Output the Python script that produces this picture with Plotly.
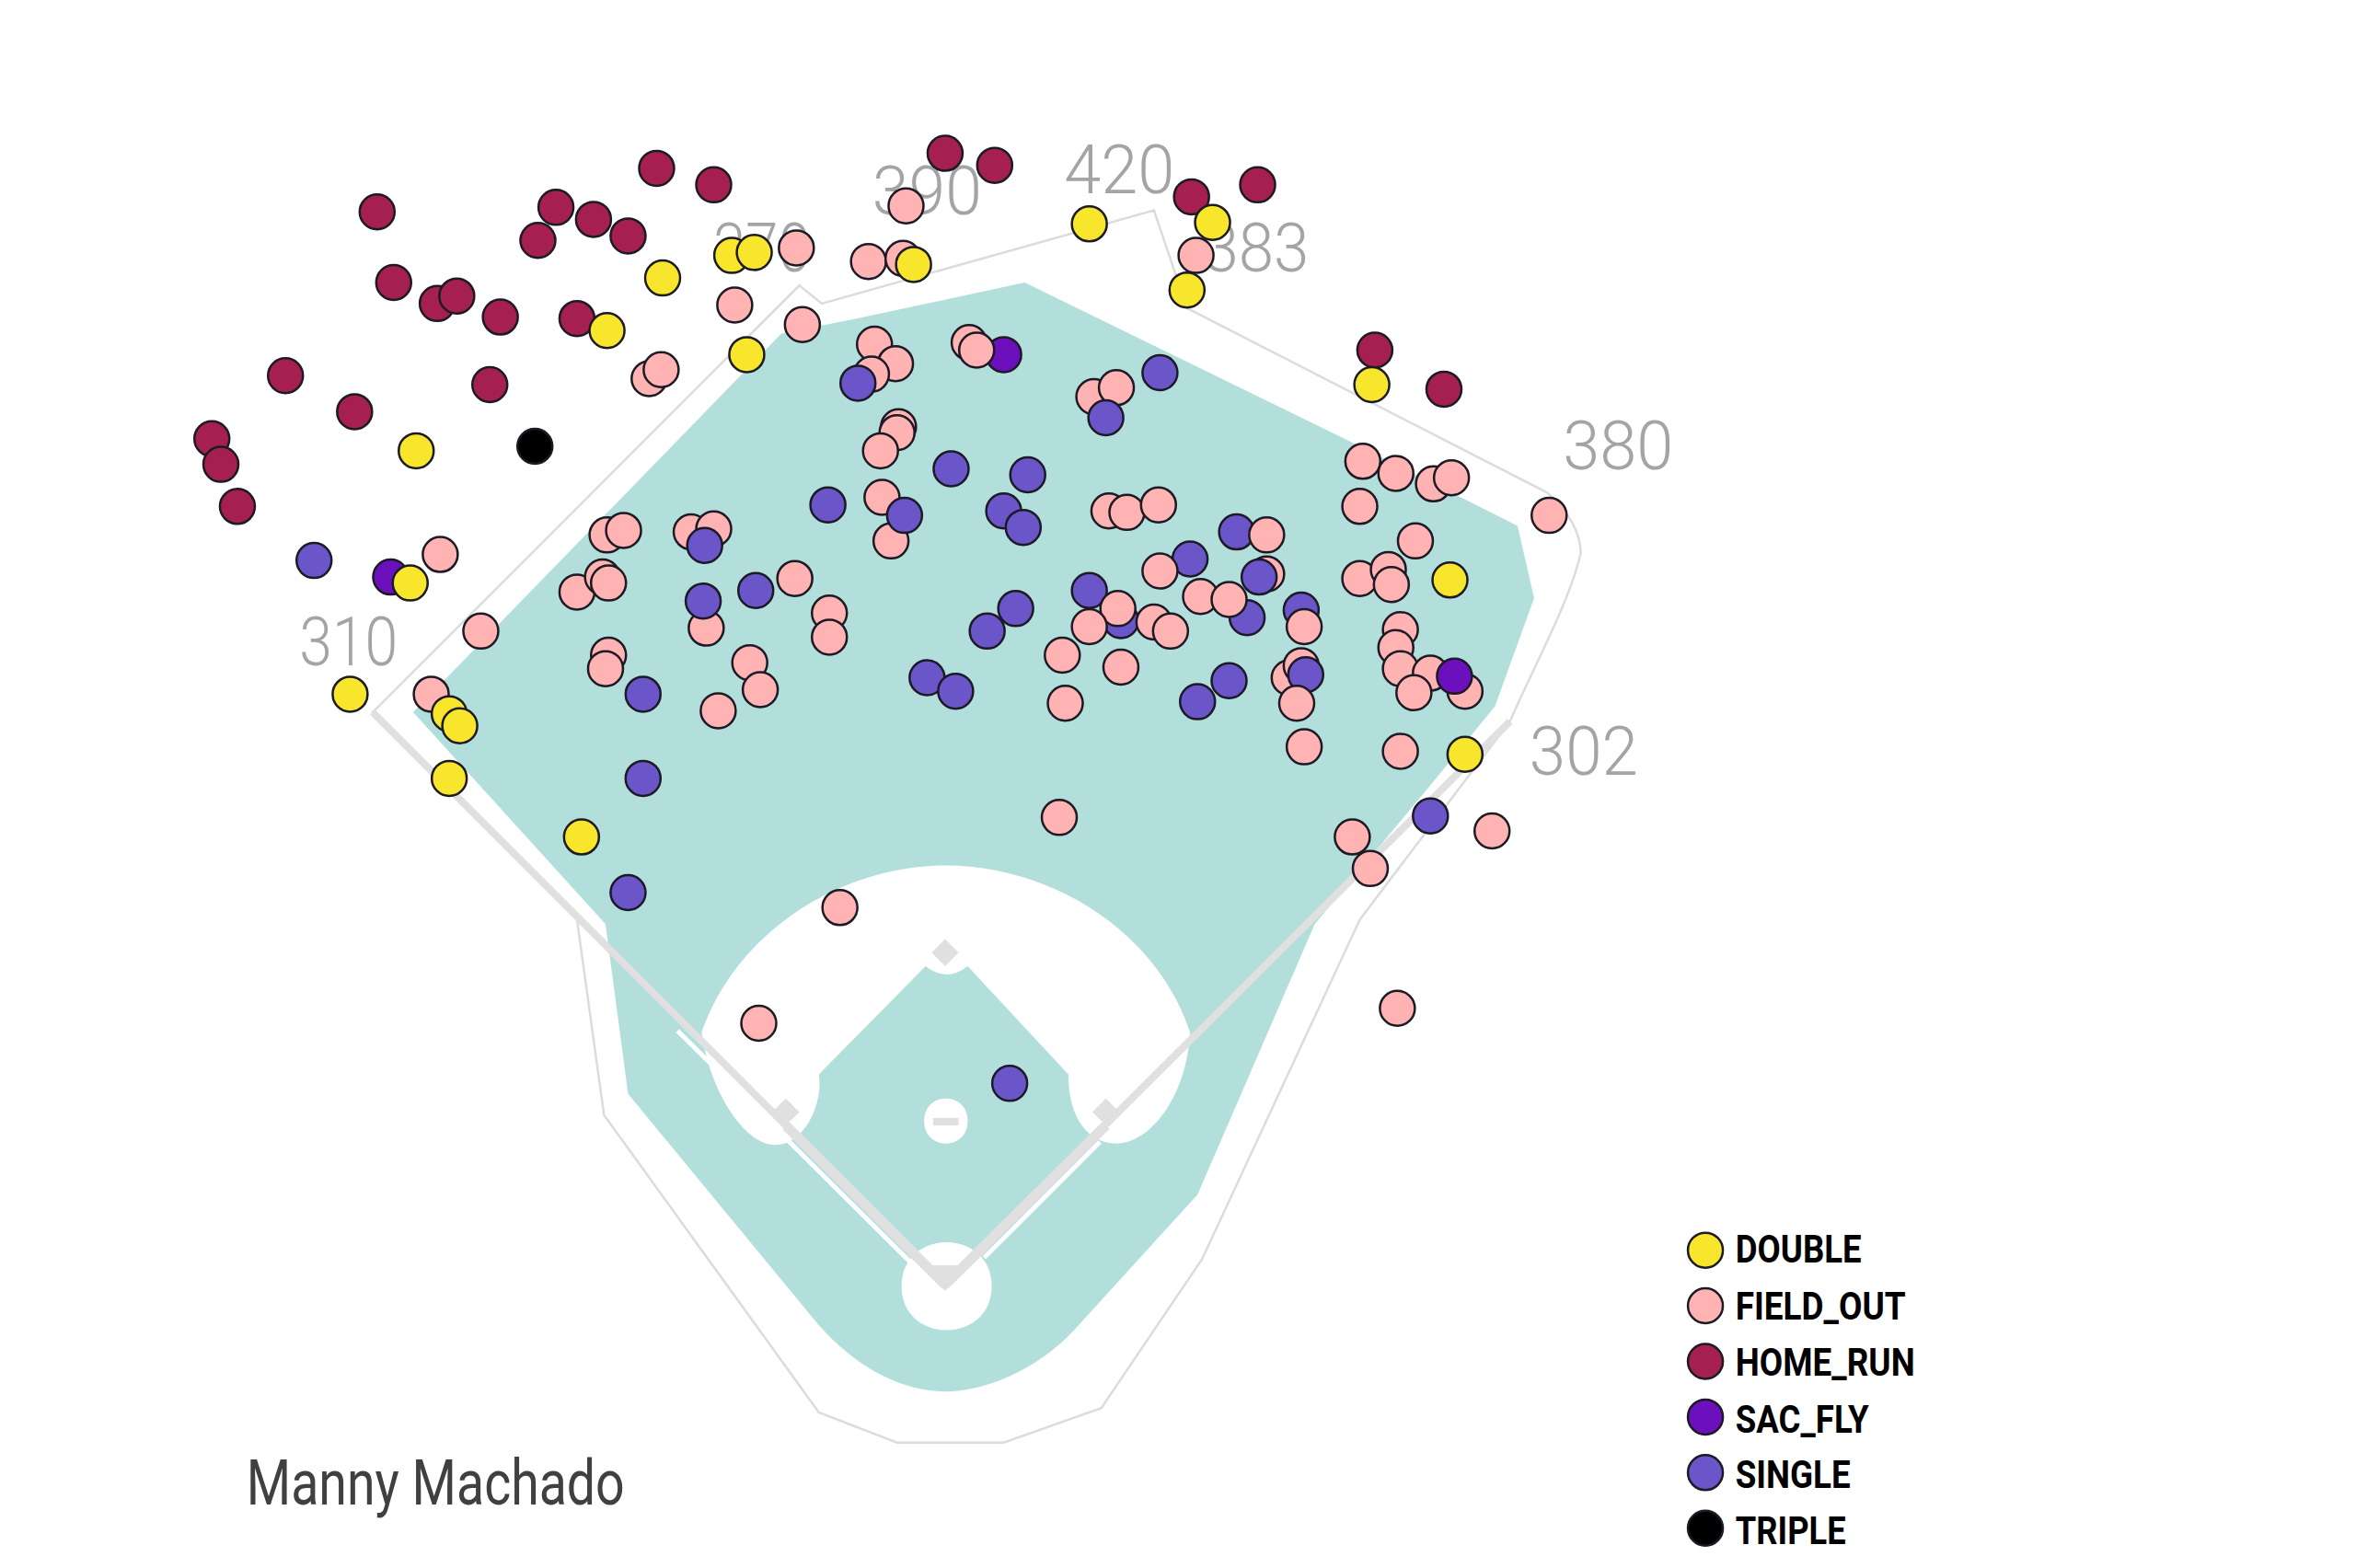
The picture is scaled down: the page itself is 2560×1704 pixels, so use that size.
import json
import plotly.graph_objects as go

# All positions are in the chart's own field units (1568 x 1043.5)
double_x = [725,807,487,502,608,441,790,404,497,913,277,273,965,233,299,306,299,975,387]
double_y = [149,148,170,168,176,185,193,220,236,256,300,388,386,462,475,483,518,502,557]
field_out_x = [603,530,578,601,796,489,534,582,596,580,432,440,728,743,598,597,586,907,929,954,966,587,905,1031,738,750,771,404,415,460,475,593,942,293,843,384,401,405,529,905,924,926,552,552,320,470,932,929,405,403,499,707,746,932,952,858,866,506,941,975,287,478,709,868,932,705,900,912,993,559,930,505]
field_out_y = [137,165,174,172,170,203,216,229,242,249,252,246,264,258,284,288,300,307,315,322,318,331,337,343,340,341,336,356,353,354,352,360,360,369,382,394,384,388,385,385,379,389,408,424,420,418,419,431,436,445,441,436,444,445,448,451,443,459,461,460,462,473,468,497,500,544,557,578,553,604,671,681]
field_out_top_x = [843,772,799,818,744,725,768,779,868,863,645,650]
field_out_top_y = [356,380,397,399,405,417,414,420,417,468,228,233]
home_run_x = [629,662,437,475,837,793,251,370,395,418,358,262,291,304,333,384,915,961,190,236,326,141,147,158]
home_run_y = [102,110,112,123,123,131,141,138,146,157,160,188,202,197,211,212,233,259,250,274,256,292,309,337]
sac_fly_x = [668,260,968]
sac_fly_y = [236,384,450]
single_x = [772,571,736,633,684,551,602,668,681,469,823,792,838,209,503,468,725,676,657,746,830,866,869,818,797,617,636,428,428,952,418,672]
single_y = [248,255,278,312,316,336,343,340,351,363,354,372,384,373,393,400,393,405,420,413,411,406,449,453,467,451,460,462,518,543,594,721]
triple_x = [356]
triple_y = [297]

categories = ["DOUBLE", "FIELD_OUT", "HOME_RUN", "SAC_FLY", "SINGLE", "TRIPLE"]
colors = ["#F7E62B", "#FFB3B3", "#A6204F", "#6C10BE", "#6A55C9", "#000000"]
marker_color = dict(zip(categories, colors))
draw_order = [
    ("FIELD_OUT", field_out_x, field_out_y),
    ("HOME_RUN", home_run_x, home_run_y),
    ("SAC_FLY", sac_fly_x, sac_fly_y),
    ("SINGLE", single_x, single_y),
    ("FIELD_OUT", field_out_top_x, field_out_top_y),
    ("DOUBLE", double_x, double_y),
    ("TRIPLE", triple_x, triple_y),
]

distance_labels = ["310", "370", "390", "420", "383", "380", "302"]
distance_x = [232, 507, 617, 745, 836, 1077, 1054]
distance_y = [431, 169, 131, 117, 169, 301, 504]
distance_widths = [107, 106, 119, 120, 115, 120, 118]
legend_widths = [137, 185, 195, 145, 125, 120]

player = "Manny Machado"
player_width = 411

W, H = 2560, 1704
UW, UH = 1568, 1043.5
TEAL = "#B2DFDB"
GRAY = "#E0E0E0"
WALL = "#DCDCDC"
EDGE = "#1C1A24"

outfield = ("M275 474 L520 222 L570 212 L682 188 L897 293 L1010 350 L1021 398 L995 470 "
            "L950 525 L875 615 L797 795 L715 885 C690 912 655 926 629 926 C600 926 570 910 545 882 "
            "L418 728 L403 615 Z")
wall = ("M248 474 L532 190 L547 202 L768 140 L790 205 L1030 328 C1044 340 1052 355 1052 368 "
        "C1045 400 1020 445 1005 480 L905 612 "
        "L800 838 L733 937 L668 960 L597 960 L545 940 L402 742 L384 612 Z")
infield = ("M467 687 C490 620 560 576 629 576 C700 576 770 620 792 687 C790 730 765 761 743 761 "
           "C725 761 711 745 711 715 L644 643 Q630 654 616 643 L545 715 "
           "C548 735 535 762 516 762 C495 762 472 725 467 687 Z")
mound = "M615 746 C615 726 644 726 644 746 C644 766 615 766 615 746 Z"
home_circle = "M600 856 C600 817 660 817 660 856 C660 895 600 895 600 856 Z"
plate = "M629 859 L617 847 L617 842 L641 842 L641 847 Z"
rubber = "M621 744 L638 744 L638 749 L621 749 Z"
base2 = "M629 625 L638 634 L629 643 L620 634 Z"
base3 = "M523 731 L532 740 L523 749 L514 740 Z"
base1 = "M736 731 L745 740 L736 749 L727 740 Z"
foul_left = "M629 855 L248 474"
foul_right = "M629 855 L1005 480"
baseline_left = "M629 855 L523 749"
baseline_right = "M629 855 L736 749"
white_left = "M451 686 L612 846"
white_right = "M732 760 L655 837"


def shp(path, fill=None, line=None, width=0):
    d = dict(type="path", path=path, xref="x", yref="y", layer="below")
    if fill:
        d["fillcolor"] = fill
    d["line"] = dict(color=line or "rgba(0,0,0,0)", width=width)
    return d


shapes = [
    shp(wall, line=WALL, width=2.5),
    shp(outfield, fill=TEAL),
    shp(infield, fill="#FFFFFF"),
    shp(home_circle, fill="#FFFFFF"),
    shp(mound, fill="#FFFFFF"),
    shp(rubber, fill=GRAY),
    shp(white_left, line="#FFFFFF", width=5),
    shp(white_right, line="#FFFFFF", width=5),
    shp(foul_left, line=GRAY, width=8),
    shp(foul_right, line=GRAY, width=8),
    shp(baseline_left, line=GRAY, width=11),
    shp(baseline_right, line=GRAY, width=11),
    shp(plate, fill=GRAY),
    shp(base2, fill=GRAY),
    shp(base3, fill=GRAY),
    shp(base1, fill=GRAY),
]

fig = go.Figure()
fig.add_trace(go.Scatter(x=distance_x, y=distance_y, mode="text", text=distance_labels,
                         textfont=dict(family="Roboto", size=75, color="#A4A4A4", weight=300),
                         textposition="middle center", hoverinfo="skip", showlegend=False))

for name, xs, ys in draw_order:
    fig.add_trace(go.Scatter(x=xs, y=ys, mode="markers", name=name,
                             marker=dict(size=38, color=marker_color[name],
                                         line=dict(color=EDGE, width=2.5)),
                             showlegend=False))

# Hand-built legend: plotly caps legend symbols at 16 px
legend_y = [832, 869, 906, 943, 980, 1017]
legend_text_y = [834, 872, 909, 947, 984, 1021]
fig.add_trace(go.Scatter(x=[1135] * len(categories), y=legend_y, mode="markers", hoverinfo="skip",
                         showlegend=False,
                         marker=dict(size=38, color=colors, line=dict(color=EDGE, width=2.5))))
fig.add_trace(go.Scatter(x=[1155] * len(categories), y=legend_text_y, mode="text", text=categories,
                         textposition="middle right", hoverinfo="skip", showlegend=False,
                         textfont=dict(family="Roboto", size=42, color="#000000", weight="bold")))
fig.add_trace(go.Scatter(x=[164], y=[991], mode="text", text=[player], textposition="middle right",
                         hoverinfo="skip", showlegend=False,
                         textfont=dict(family="Roboto", size=68, color="#404040")))

fig.update_layout(width=W, height=H, margin=dict(l=0, r=0, t=0, b=0), autosize=False,
                  paper_bgcolor="#FFFFFF", plot_bgcolor="#FFFFFF", shapes=shapes, showlegend=False,
                  xaxis=dict(range=[0, UW], visible=False, fixedrange=True),
                  yaxis=dict(range=[UH, 0], visible=False, fixedrange=True))

# The original lettering is condensed; no condensed face is installed, so squeeze the real text.
widths = dict(zip(distance_labels + categories + [player],
                  distance_widths + legend_widths + [player_width]))
post = """
document.body.style.margin='0';document.body.style.overflow='hidden';
var T=%s;
function squeeze(){document.querySelectorAll('.textpoint text').forEach(function(t){
  var w=T[t.textContent]; if(w){t.setAttribute('lengthAdjust','spacingAndGlyphs');t.setAttribute('textLength',w);}
});}
squeeze();setTimeout(squeeze,50);
""" % json.dumps(widths)
fig.write_html("out.html", post_script=post, config=dict(displayModeBar=False))
